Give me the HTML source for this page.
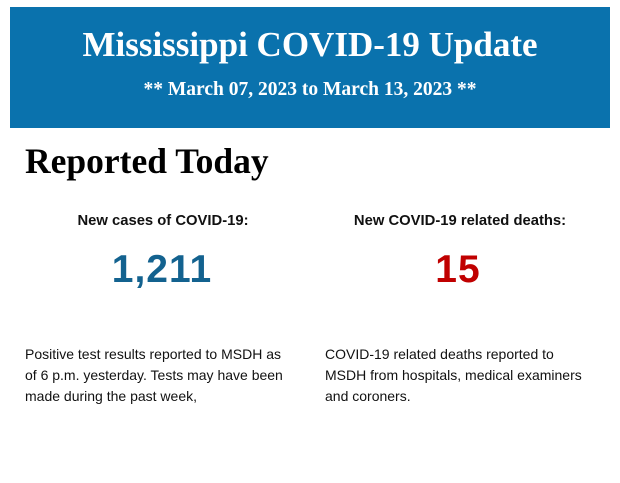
<!DOCTYPE html>
<html><head><style>
body{margin:0;width:620px;height:483px;background:#fff;position:relative;overflow:hidden}
.hd{position:absolute;left:10px;top:7px;width:600px;height:121px;background:#0a72ad;color:#fff;font-family:"Liberation Serif",serif;font-weight:bold;text-align:center}
.t{position:absolute;left:0;right:0;top:18px;font-size:35px;line-height:40px}
.s{position:absolute;left:0;right:0;top:71px;font-size:19.5px;line-height:24px}
.r{position:absolute;left:25px;top:141px;font:bold 35.5px/40px "Liberation Serif",serif;color:#000}
.l{position:absolute;top:212px;width:300px;text-align:center;font:bold 14.8px/18px "Liberation Sans",sans-serif;color:#111}
.n{position:absolute;top:248px;width:300px;text-align:center;font:bold 39px/44px "Liberation Sans",sans-serif;letter-spacing:1px}
.p{position:absolute;top:344px;width:272px;font:14px/21px "Liberation Sans",sans-serif;color:#111}
</style></head><body>
<div class="hd"><div class="t">Mississippi COVID-19 Update</div><div class="s">** March 07, 2023 to March 13, 2023 **</div></div>
<div class="r">Reported Today</div>
<div class="l" style="left:13px">New cases of COVID-19:</div>
<div class="l" style="left:310px">New COVID-19 related deaths:</div>
<div class="n" style="left:12px;color:#13628f">1,211</div>
<div class="n" style="left:308px;color:#c00000">15</div>
<div class="p" style="left:25px;width:262px">Positive test results reported to MSDH as of 6 p.m. yesterday. Tests may have been made during the past week,</div>
<div class="p" style="left:325px;width:268px">COVID-19 related deaths reported to MSDH from hospitals, medical examiners and coroners.</div>
</body></html>
